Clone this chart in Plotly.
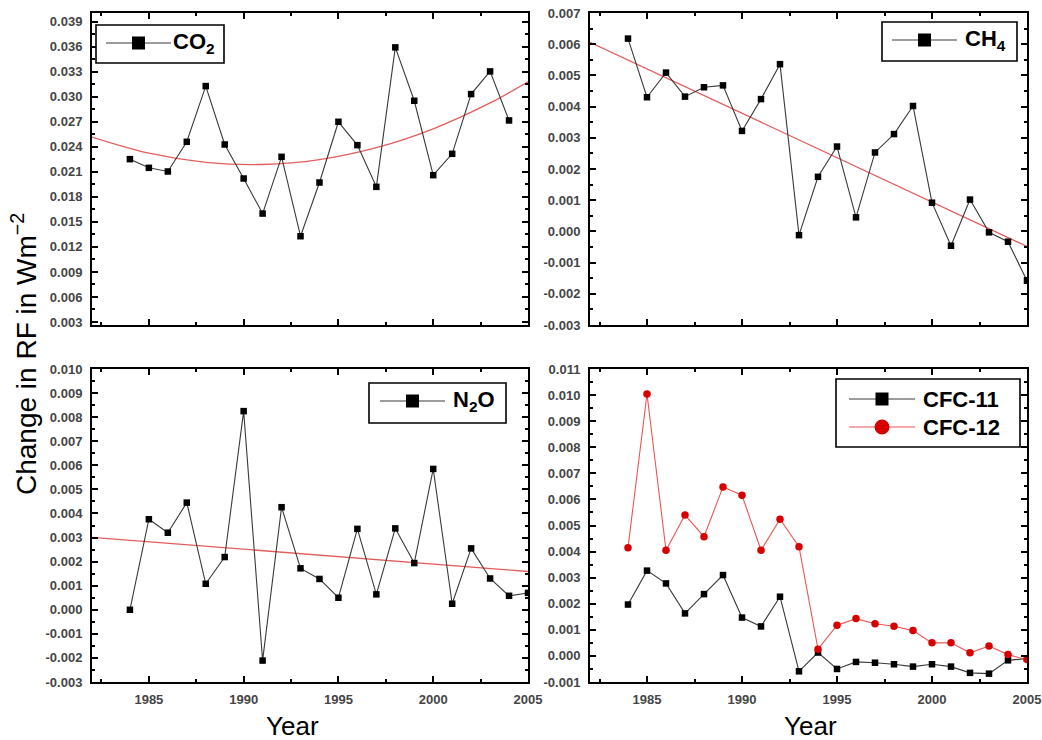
import plotly.graph_objects as go

# ---------------- data ----------------
years_co2 = list(range(1984, 2005))
co2 = [0.02252, 0.02148, 0.02104, 0.0246, 0.03128, 0.02428, 0.0202, 0.0160,
       0.0228, 0.01328, 0.01972, 0.0270, 0.0242, 0.0192, 0.03592, 0.02952,
       0.0206, 0.02316, 0.03032, 0.03304, 0.02716]

years = list(range(1984, 2006))
ch4 = [0.00618, 0.00430, 0.00509, 0.00432, 0.00462, 0.00468, 0.00322, 0.00424,
       0.00536, -0.00012, 0.00175, 0.00272, 0.00045, 0.00253, 0.00312, 0.00402,
       0.00092, -0.00046, 0.00102, -0.00003, -0.00033, -0.00158]
n2o = [0.0, 0.00376, 0.00320, 0.00445, 0.00108, 0.00219, 0.00825, -0.00211,
       0.00426, 0.00172, 0.00128, 0.00050, 0.00336, 0.00064, 0.00338, 0.00194,
       0.00585, 0.00025, 0.00255, 0.00130, 0.00058, 0.00070]
cfc11 = [0.00197, 0.00327, 0.00278, 0.00163, 0.00237, 0.00310, 0.00147, 0.00113,
         0.00227, -0.00059, 0.00013, -0.00050, -0.00023, -0.00026, -0.00032,
         -0.00041, -0.00032, -0.00041, -0.00065, -0.00068, -0.00017, -0.00010]
cfc12 = [0.00415, 0.01004, 0.00405, 0.00540, 0.00457, 0.00648, 0.00616, 0.00405,
         0.00524, 0.00419, 0.00026, 0.00118, 0.00143, 0.00123, 0.00114, 0.00097,
         0.00050, 0.00050, 0.00012, 0.00038, 0.00005, -0.00014]

# fitted curves
co2_fit_years = [1982, 1985, 1988, 1991, 1994, 1997, 2000, 2003, 2005]
co2_fit = [0.02516, 0.02323, 0.02214, 0.02188, 0.02247, 0.0239, 0.02616, 0.02926, 0.0318]
lin_fit_years = [1982, 2005]
ch4_fit = [0.00606, -0.00048]
n2o_fit = [0.00301, 0.00159]

x_ticks = [1985, 1990, 1995, 2000, 2005]
co2_ticks = [0.003, 0.006, 0.009, 0.012, 0.015, 0.018, 0.021, 0.024, 0.027,
             0.030, 0.033, 0.036, 0.039]
ch4_ticks = [-0.003, -0.002, -0.001, 0.0, 0.001, 0.002, 0.003, 0.004, 0.005,
             0.006, 0.007]
n2o_ticks = [-0.003, -0.002, -0.001, 0.0, 0.001, 0.002, 0.003, 0.004, 0.005,
             0.006, 0.007, 0.008, 0.009, 0.010]
cfc_ticks = [-0.001, 0.0, 0.001, 0.002, 0.003, 0.004, 0.005, 0.006, 0.007,
             0.008, 0.009, 0.010, 0.011]

# ---------------- style ----------------
FONT = "Liberation Sans, Arial, sans-serif"
BLACK_LINE = "#3a3a3a"
FIT_RED = "#e35d5d"
RED = "#d60000"
RED_LINE = "#ee5555"

W, H = 1042, 740


def px_x(v):
    return v / W


def px_y(v):
    return 1 - v / H


xl = [px_x(92), px_x(528)]
xr = [px_x(590), px_x(1027)]
yt = [px_y(325), px_y(13)]
yb = [px_y(682), px_y(369)]

fig = go.Figure()


def data_trace(x, y, ax, color, line_color, symbol, size, name):
    xa, ya = ax
    fig.add_trace(go.Scatter(
        x=x, y=y, mode="lines+markers", xaxis=xa, yaxis=ya,
        line=dict(color=line_color, width=1.1),
        marker=dict(symbol=symbol, size=size, color=color),
        showlegend=False, name=name))


def fit_trace(x, y, ax, shape="linear"):
    xa, ya = ax
    fig.add_trace(go.Scatter(
        x=x, y=y, mode="lines", xaxis=xa, yaxis=ya,
        line=dict(color=FIT_RED, width=1.3, shape=shape, smoothing=1.0),
        showlegend=False, hoverinfo="skip"))


fit_trace(co2_fit_years, co2_fit, ("x", "y"), shape="spline")
fit_trace(lin_fit_years, ch4_fit, ("x2", "y2"))
fit_trace(lin_fit_years, n2o_fit, ("x3", "y3"))

data_trace(years_co2, co2, ("x", "y"), "black", BLACK_LINE, "square", 6.5, "CO2")
data_trace(years, ch4, ("x2", "y2"), "black", BLACK_LINE, "square", 6.5, "CH4")
data_trace(years, n2o, ("x3", "y3"), "black", BLACK_LINE, "square", 6.5, "N2O")
data_trace(years, cfc11, ("x4", "y4"), "black", BLACK_LINE, "square", 6.5, "CFC-11")
data_trace(years, cfc12, ("x4", "y4"), RED, RED_LINE, "circle", 7.5, "CFC-12")

tickfont = dict(family=FONT, size=13, color="#454545", weight="bold")


def xaxis(domain, anchor, labels):
    return dict(domain=domain, anchor=anchor, range=[1982, 2005],
                tickvals=x_ticks, ticktext=[str(v) for v in x_ticks],
                showticklabels=labels, tickfont=tickfont, automargin=False,
                ticklabeloverflow="allow",
                ticks="inside", ticklen=6, tickwidth=1.5, tickcolor="black",
                minor=dict(ticks="inside", ticklen=3, tickwidth=1.5,
                           tickcolor="black", dtick=2.5, tick0=1985),
                showline=True, linecolor="black", linewidth=2,
                mirror="allticks", showgrid=False, zeroline=False,
                ticklabelstandoff=4)


def yaxis(domain, anchor, rng, tv, minor_dt):
    return dict(domain=domain, anchor=anchor, range=rng,
                tickvals=tv, ticktext=[f"{v:.3f}" for v in tv],
                tickfont=tickfont, automargin=False,
                ticklabeloverflow="allow",
                ticks="inside", ticklen=6, tickwidth=1.5, tickcolor="black",
                minor=dict(ticks="inside", ticklen=3, tickwidth=1.5,
                           tickcolor="black", dtick=minor_dt, tick0=tv[0]),
                showline=True, linecolor="black", linewidth=2,
                mirror="allticks", showgrid=False, zeroline=False,
                ticklabelstandoff=5)


# ---------------- legends (drawn as boxes inside each panel) ----------------
shapes = []
annotations = []


def legend_box(box, entries):
    x0, y0, x1, y1 = box
    shapes.append(dict(type="rect", xref="paper", yref="paper",
                       x0=px_x(x0), x1=px_x(x1), y0=px_y(y1), y1=px_y(y0),
                       line=dict(color="black", width=1.6), fillcolor="white",
                       layer="above"))
    for name, color, lcolor, symbol, lx0, lx1, cy, tx in entries:
        shapes.append(dict(type="line", xref="paper", yref="paper",
                           x0=px_x(lx0), x1=px_x(lx1), y0=px_y(cy), y1=px_y(cy),
                           line=dict(color=lcolor, width=1.1), layer="above"))
        cx = (lx0 + lx1) / 2
        r = 6.5 if symbol == "square" else 7.5
        shapes.append(dict(type="rect" if symbol == "square" else "circle",
                           xref="paper", yref="paper",
                           x0=px_x(cx - r), x1=px_x(cx + r),
                           y0=px_y(cy + r), y1=px_y(cy - r),
                           line=dict(color=color, width=0), fillcolor=color,
                           layer="above"))
        annotations.append(dict(text=name, x=px_x(tx), y=px_y(cy),
                                xref="paper", yref="paper", showarrow=False,
                                xanchor="left", yanchor="middle",
                                font=dict(family=FONT, size=22, color="black",
                                          weight="bold")))


legend_box((96, 25, 224, 63),
           [("CO<sub>2</sub>", "black", BLACK_LINE, "square", 106, 171, 43, 171)])
legend_box((882, 22, 1017, 61),
           [("CH<sub>4</sub>", "black", BLACK_LINE, "square", 892, 957, 40, 963)])
legend_box((369, 383, 506, 423),
           [("N<sub>2</sub>O", "black", BLACK_LINE, "square", 380, 445, 401, 451)])
legend_box((836, 379, 1020, 447),
           [("CFC-11", "black", BLACK_LINE, "square", 849, 915, 399, 921),
            ("CFC-12", RED, RED_LINE, "circle", 849, 915, 427, 921)])

annotations += [
    dict(text="Change in RF in Wm<sup>−2</sup>", x=px_x(24), y=px_y(354),
         xref="paper", yref="paper", textangle=-90, showarrow=False,
         xanchor="center", yanchor="middle",
         font=dict(family=FONT, size=28, color="black")),
    dict(text="Year", x=px_x(292), y=px_y(726), xref="paper", yref="paper",
         showarrow=False, xanchor="center", yanchor="middle",
         font=dict(family=FONT, size=26, color="black")),
    dict(text="Year", x=px_x(810), y=px_y(726), xref="paper", yref="paper",
         showarrow=False, xanchor="center", yanchor="middle",
         font=dict(family=FONT, size=26, color="black")),
]

fig.update_layout(
    width=W, height=H,
    margin=dict(l=0, r=0, t=0, b=0, pad=0, autoexpand=False),
    paper_bgcolor="white", plot_bgcolor="white",
    font=dict(family=FONT),
    showlegend=False,
    xaxis=xaxis(xl, "y", False),
    yaxis=yaxis(yt, "x", [0.00264, 0.04004], co2_ticks, 0.0015),
    xaxis2=xaxis(xr, "y2", False),
    yaxis2=yaxis(yt, "x2", [-0.003, 0.007], ch4_ticks, 0.0005),
    xaxis3=xaxis(xl, "y3", True),
    yaxis3=yaxis(yb, "x3", [-0.003, 0.010], n2o_ticks, 0.0005),
    xaxis4=xaxis(xr, "y4", True),
    yaxis4=yaxis(yb, "x4", [-0.001, 0.011], cfc_ticks, 0.0005),
    shapes=shapes,
    annotations=annotations,
)

# the figure fills the whole window: drop the page's default body margin
fig.write_html(
    "out.html",
    config={"displayModeBar": False},
    post_script="document.body.style.margin='0';"
                "document.documentElement.style.overflow='hidden';",
)
